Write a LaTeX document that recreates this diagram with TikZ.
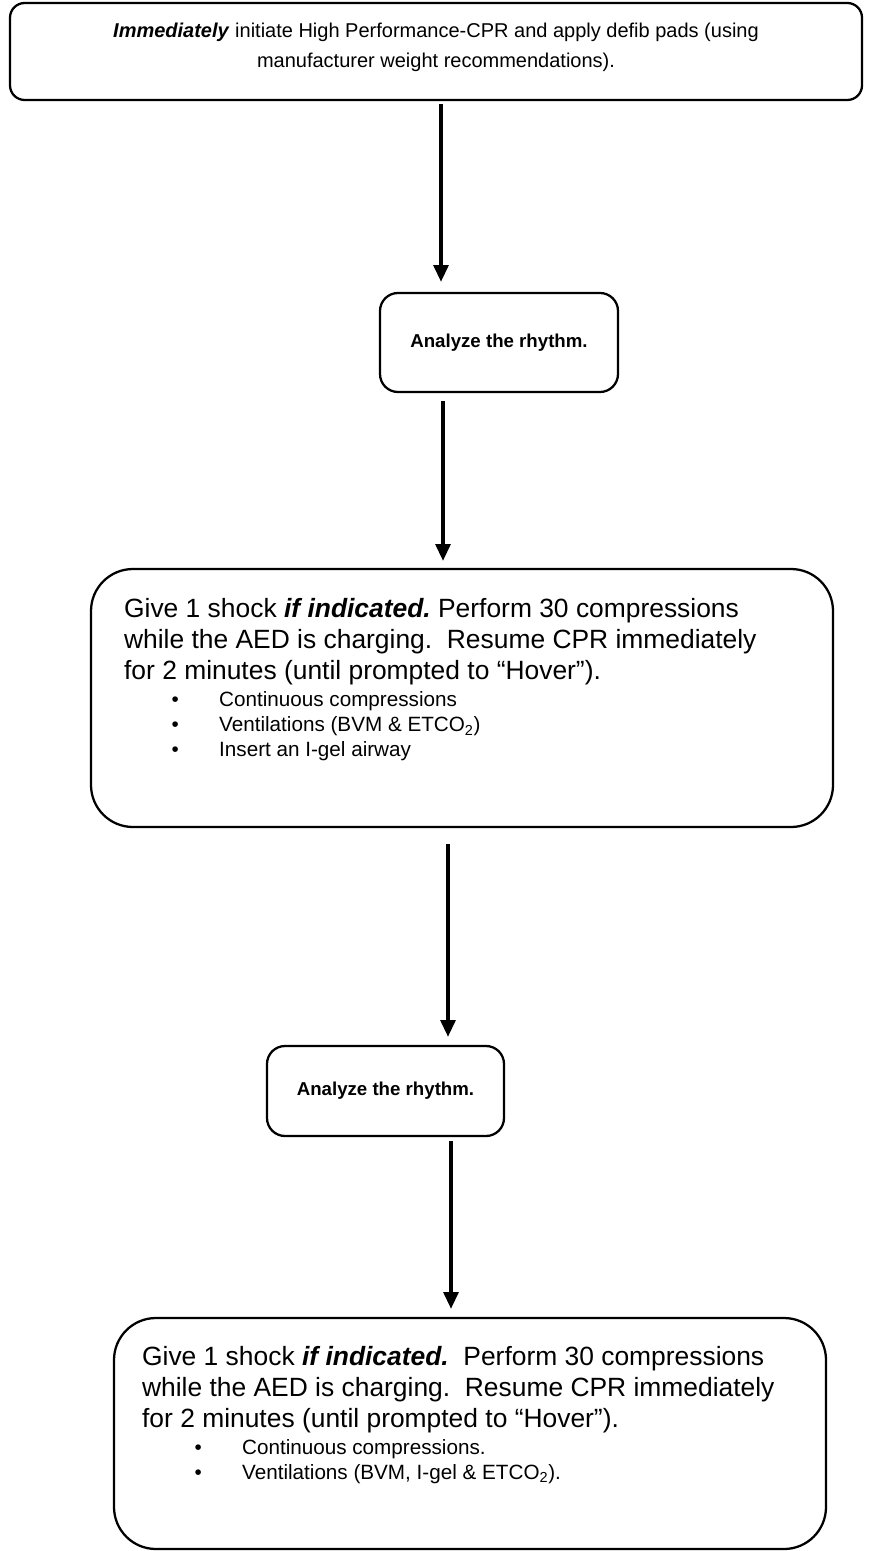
\documentclass[tikz,border=0pt]{standalone}
\usepackage{fontspec}
\setmainfont{Liberation Sans}
\usetikzlibrary{
    arrows.meta,
    positioning,
    calc
}
\tikzset{
    stepbox/.style = {
        rectangle,
        draw,
        line width=1.7pt,
        inner sep=0pt,
        align=center
    },
    flow/.style = {
        -{Triangle[width=11pt,length=12.5pt]},
        line width=2.6pt
    },
    bigtext/.style = {
        inner sep=0pt,
        align=left,
        font=\fontsize{19.8}{23.25}\selectfont
    },
    listtext/.style = {
        inner sep=0pt,
        align=left,
        font=\fontsize{15.5}{18.75}\selectfont
    }
}
\newcommand{\listrow}[2][35.6pt]{\hspace*{#1}\makebox[35.7pt][l]{\textbullet}#2}

\begin{document}
\begin{tikzpicture}[x=0.75pt,y=-0.75pt]
\useasboundingbox (0,0) rectangle (872,1551);

\node (start) [stepbox, rounded corners=11pt, minimum width=639pt, minimum height=72.75pt] at (436,51.5) {};
\node (starttxt) [below=16pt of start.north, inner sep=0pt, align=center, font=\fontsize{15}{22.5}\selectfont] {\textbf{\textit{Immediately}} initiate High Performance-CPR and apply defib pads (using\\ manufacturer weight recommendations).};

\node (rhythm1) [stepbox, rounded corners=13.5pt, minimum width=178.5pt, minimum height=74.25pt, font=\bfseries\fontsize{14}{17}\selectfont] at (499,342.5) {Analyze the rhythm.};

\node (shock1) [stepbox, rounded corners=31.5pt, minimum width=556.5pt, minimum height=193.5pt] at (462,698) {};
\node (shock1txt) [bigtext, below right=22.9pt and 25.5pt of shock1.north west] {Give 1 shock \textbf{\textit{if indicated.}}\ Perform 30 compressions\\ while the AED is charging.\ \ Resume CPR immediately\\ for 2 minutes (until prompted to “Hover”).};
\node (shock1list) [listtext, below right=4.3pt and 0pt of shock1txt.south west] {\listrow{Continuous compressions}\\ \listrow{Ventilations (BVM \& ETCO\textsubscript{2})}\\ \listrow{Insert an I-gel airway}};

\node (rhythm2) [stepbox, rounded corners=13.5pt, minimum width=177.75pt, minimum height=67.5pt, font=\bfseries\fontsize{14}{17}\selectfont] at (385.5,1091) {Analyze the rhythm.};

\node (shock2) [stepbox, rounded corners=31.5pt, minimum width=534pt, minimum height=173.25pt] at (470,1433.5) {};
\node (shock2txt) [bigtext, below right=22.1pt and 21.75pt of shock2.north west] {Give 1 shock \textbf{\textit{if indicated.}}\ \ Perform 30 compressions\\ while the AED is charging.\ \ Resume CPR immediately\\ for 2 minutes (until prompted to “Hover”).};
\node (shock2list) [listtext, below right=4.3pt and 0pt of shock2txt.south west] {\listrow[39.3pt]{Continuous compressions.}\\ \listrow[39.3pt]{Ventilations (BVM, I-gel \& ETCO\textsubscript{2}).}};

% arrows between the steps
\draw[flow] ($(start.south)+(5,3)$) -- ($(start.south |- rhythm1.north)+(5,-10)$);
\draw[flow] ($(rhythm1.south)+(-56,8)$) -- ($(rhythm1.south |- shock1.north)+(-56,-7)$);
\draw[flow] ($(shock1.south)+(-14,16)$) -- ($(shock1.south |- rhythm2.north)+(-14,-8)$);
\draw[flow] ($(rhythm2.south)+(65.5,4)$) -- ($(rhythm2.south |- shock2.north)+(65.5,-8)$);
\end{tikzpicture}
\end{document}
